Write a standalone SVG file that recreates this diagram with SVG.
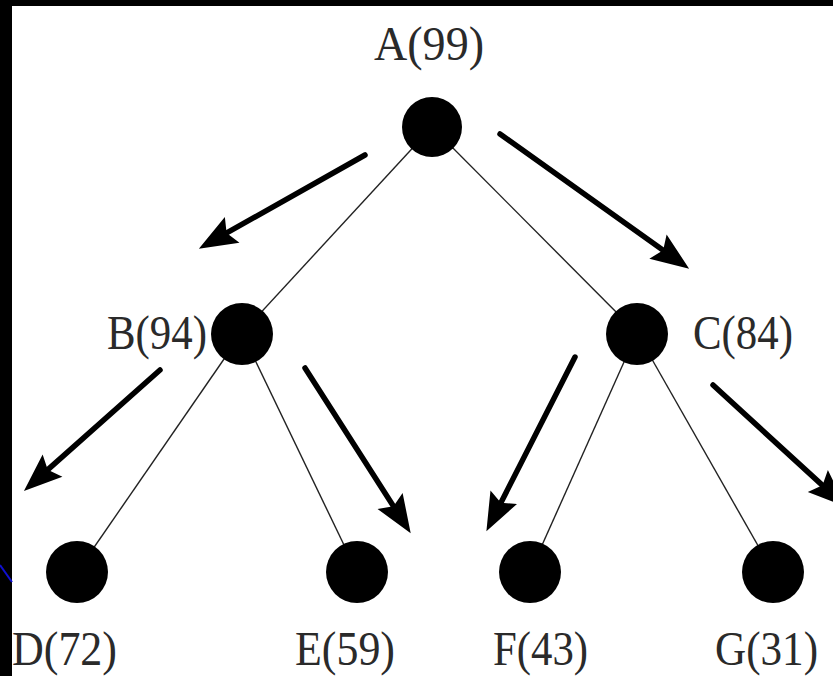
<svg xmlns="http://www.w3.org/2000/svg" width="833" height="676" viewBox="0 0 833 676">
<style>
.edge{stroke:#222;stroke-width:1.4;fill:none}
.arr{stroke:#000;stroke-width:5.5;fill:none;stroke-linecap:round;marker-end:url(#head)}
.dot{fill:#000}
.lbl{font-family:"Liberation Serif","Times New Roman",serif;font-size:48px;fill:#2a2a2a}
</style>
<defs>
<marker id="head" markerUnits="userSpaceOnUse" markerWidth="44" markerHeight="34" viewBox="0 -16 40 32" refX="14" refY="0" orient="auto">
<path d="M0,-14 L36,0 L0,14 L6,0 z" fill="#000"/>
</marker>
</defs>
<rect width="833" height="676" fill="#000"/>
<rect x="12" y="6" width="821" height="670" fill="#fff"/>
<line x1="0" y1="565" x2="12" y2="582" stroke="#1010d0" stroke-width="2"/>
<g id="connectors">
<line class="edge" x1="432" y1="127" x2="242" y2="333"/>
<line class="edge" x1="432" y1="127" x2="637" y2="333"/>
<line class="edge" x1="242" y1="333" x2="77" y2="572"/>
<line class="edge" x1="242" y1="333" x2="357" y2="572"/>
<line class="edge" x1="637" y1="333" x2="530" y2="572"/>
<line class="edge" x1="637" y1="333" x2="773" y2="572"/>
</g>
<g id="arrows">
<line class="arr" x1="365" y1="155" x2="219.2" y2="237.2"/>
<line class="arr" x1="500" y1="134" x2="670.1" y2="255.2"/>
<line class="arr" x1="160" y1="370" x2="41.4" y2="475.4"/>
<line class="arr" x1="305" y1="368" x2="398.1" y2="513.5"/>
<line class="arr" x1="575" y1="357" x2="497" y2="510.4"/>
<line class="arr" x1="713" y1="385" x2="828.8" y2="491.1"/>
</g>
<g id="A"><circle class="dot" cx="432" cy="127" r="30"/><text class="lbl" x="374" y="60" textLength="110" lengthAdjust="spacingAndGlyphs">A(99)</text></g>
<g id="B"><circle class="dot" cx="242" cy="334" r="31"/><text class="lbl" x="107" y="349" textLength="100" lengthAdjust="spacingAndGlyphs">B(94)</text></g>
<g id="C"><circle class="dot" cx="637" cy="334" r="31"/><text class="lbl" x="693" y="349" textLength="100" lengthAdjust="spacingAndGlyphs">C(84)</text></g>
<g id="D"><circle class="dot" cx="77" cy="572" r="31"/><text class="lbl" x="12" y="665" textLength="105" lengthAdjust="spacingAndGlyphs">D(72)</text></g>
<g id="E"><circle class="dot" cx="357" cy="572" r="31"/><text class="lbl" x="295" y="665" textLength="100" lengthAdjust="spacingAndGlyphs">E(59)</text></g>
<g id="F"><circle class="dot" cx="530" cy="572" r="31"/><text class="lbl" x="493" y="665" textLength="95" lengthAdjust="spacingAndGlyphs">F(43)</text></g>
<g id="G"><circle class="dot" cx="773" cy="572" r="31"/><text class="lbl" x="715" y="665" textLength="103" lengthAdjust="spacingAndGlyphs">G(31)</text></g>
</svg>
